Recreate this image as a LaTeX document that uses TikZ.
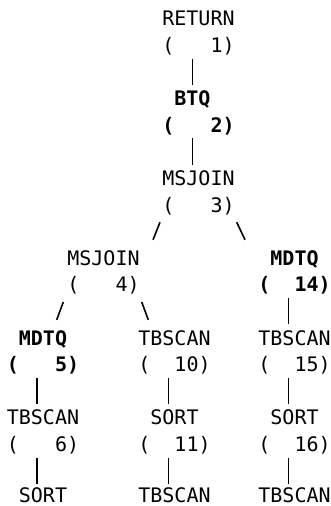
\documentclass[tikz,border=0pt]{standalone}
\usepackage{fontspec}
\setmonofont{DejaVu Sans Mono}
\usetikzlibrary{math}

\newcommand{\rs}{\rule[-6pt]{0pt}{26.6pt}}
\newcommand{\rt}{\rule{0pt}{18.6pt}}
\tikzset{
  plan/.style={font=\ttfamily\fontsize{20}{26.6}\selectfont, align=center, inner sep=0pt},
  hot/.style={plan, font=\ttfamily\bfseries\fontsize{20}{26.6}\selectfont},
  leaf/.style={plan, anchor=base},
  link/.style={line width=1.6pt}
}

\begin{document}
\begin{tikzpicture}[x=1pt,y=-1pt]
\tikzmath{
\h=26.6;
\yo=18.5;
\cL=43;
\cJ=103.5;
\cM=174.5;
\cT=198.5;
\cR=294.5;
\hc=6;
}
\useasboundingbox (0,0) rectangle (331,506);

% operators
\node[plan] (ret) at (\cT,{\yo+0.5*\h}) {\rs RETURN\\\rs(~~~1)};
\node[hot] (btq) at (\cT,{\yo+3.5*\h}) {\rs BTQ\hphantom{X}\\\rs(~~~2)};
\node[plan] (msj3) at (\cT,{\yo+6.5*\h}) {\rs MSJOIN\\\rs(~~~3)};
\node[plan] (msj4) at (\cJ,{\yo+9.5*\h}) {\rs MSJOIN\\\rs(~~~4)};
\node[hot] (mdtq14) at (\cR,{\yo+9.5*\h}) {\rs MDTQ\\\rs(~~14)};
\node[hot] (mdtq5) at (\cL,{\yo+12.5*\h}) {\rs MDTQ\\\rs(~~~5)};
\node[plan] (tb10) at (\cM,{\yo+12.5*\h}) {\rs TBSCAN\\\rs(~~10)};
\node[plan] (tb15) at (\cR,{\yo+12.5*\h}) {\rs TBSCAN\\\rs(~~15)};
\node[plan] (tb6) at (\cL,{\yo+15.5*\h}) {\rs TBSCAN\\\rs(~~~6)};
\node[plan] (sort11) at (\cM,{\yo+15.5*\h}) {\rs SORT\\\rs(~~11)};
\node[plan] (sort16) at (\cR,{\yo+15.5*\h}) {\rs SORT\\\rs(~~16)};
\node[leaf] (sort7) at (\cL,{\yo+18*\h+5}) {\rt SORT};
\node[leaf] (tb12) at (\cM,{\yo+18*\h+5}) {\rt TBSCAN};
\node[leaf] (tb17) at (\cR,{\yo+18*\h+5}) {\rt TBSCAN};

% straight links
\draw[link] ([xshift=-\hc]ret.south) -- ([xshift=-\hc]btq.north);
\draw[link] ([xshift=-\hc]btq.south) -- ([xshift=-\hc]msj3.north);
\draw[link] ([xshift=-\hc]mdtq14.south) -- ([xshift=-\hc]tb15.north);
\draw[link] ([xshift=-\hc]mdtq5.south) -- ([xshift=-\hc]tb6.north);
\draw[link] ([xshift=-\hc]tb10.south) -- ([xshift=-\hc]sort11.north);
\draw[link] ([xshift=-\hc]tb15.south) -- ([xshift=-\hc]sort16.north);
\draw[link] ([xshift=-\hc]tb6.south) -- ([xshift=-\hc]sort7.north);
\draw[link] ([xshift=-\hc]sort11.south) -- ([xshift=-\hc]tb12.north);
\draw[link] ([xshift=-\hc]sort16.south) -- ([xshift=-\hc]tb17.north);

% slanted links
\draw[link] ([shift={(-38.5,4)}]msj3.south) -- ([shift={(49.5,-4.6)}]msj4.north);
\draw[link] ([shift={(38.2,4)}]msj3.south) -- ([shift={(-49.5,-4.6)}]mdtq14.north);
\draw[link] ([shift={(-40.2,4)}]msj4.south) -- ([shift={(13.7,-4.4)}]mdtq5.north);
\draw[link] ([shift={(38.2,4)}]msj4.south) -- ([shift={(-26.2,-4.4)}]tb10.north);
\end{tikzpicture}
\end{document}
